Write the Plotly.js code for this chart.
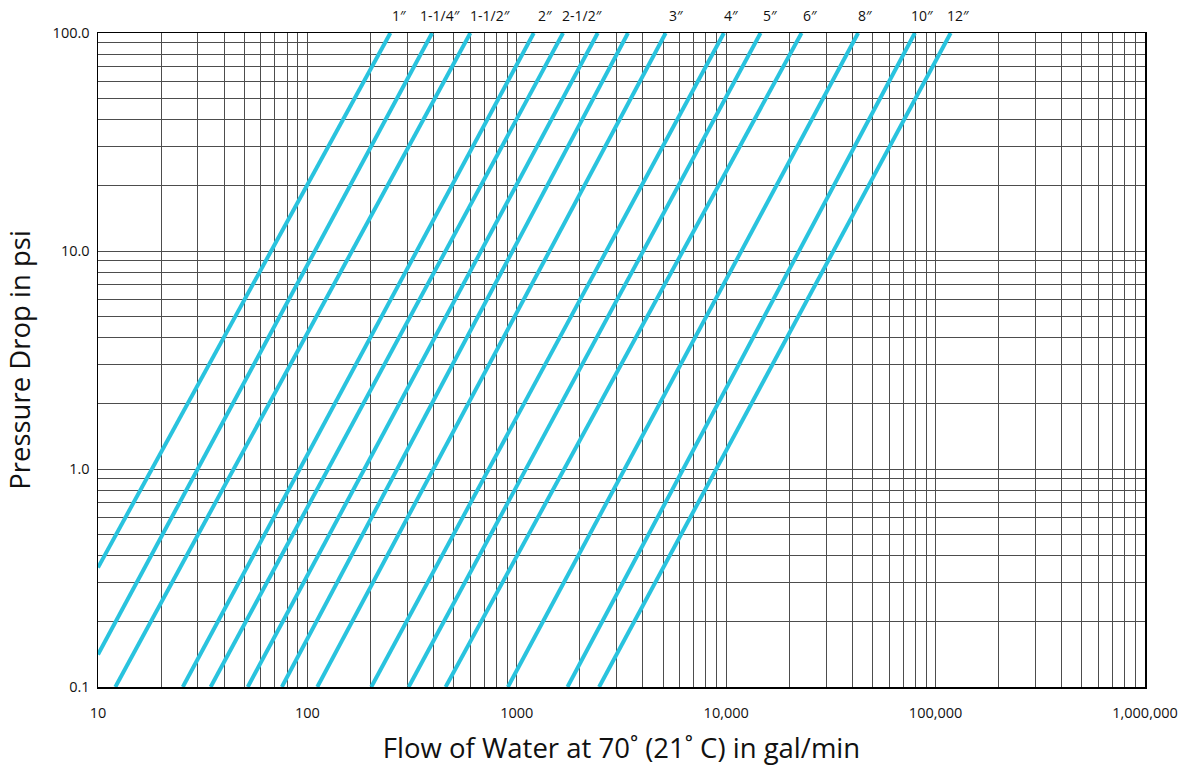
<!DOCTYPE html>
<html>
<head>
<meta charset="utf-8">
<script src="https://cdn.plot.ly/plotly-3.0.1.min.js"></script>
<style>html,body{margin:0;padding:0;background:#fff;}#chart{width:1191px;height:772px;}</style>
</head>
<body>
<div id="chart"></div>
<script>
// Line endpoints (flow gal/min, pressure drop psi)
const flowStart = [10, 10, 12.1, 25.4, 34.5, 51.9, 75.5, 111.5, 201.8, 304.5, 457, 907, 1746, 2472];
const dropStart = [0.353, 0.141, 0.1, 0.1, 0.1, 0.1, 0.1, 0.1, 0.1, 0.1, 0.1, 0.1, 0.1, 0.1];
const flowEnd   = [249, 394, 600, 1205, 1663, 2435, 3396, 5140, 9750, 14590, 22900, 42660, 79600, 118000];
const dropEnd   = [100, 100, 100, 100, 100, 100, 100, 100, 100, 100, 100, 100, 100, 100];

// Pipe size labels above the plot and the flow value they sit over
const pipeLabels = ['1″', '1-1/4″', '1-1/2″', '2″', '2-1/2″', '3″', '4″', '5″', '6″', '8″', '10″', '12″'];
const pipeLabelFlow = [272.8, 428, 742, 1359, 2042, 5740, 10520, 16140, 25050, 45900, 85900, 128000];

// Axis tick labels (decades)
const xDecades = [10, 100, 1000, 10000, 100000, 1000000];
const xDecadeText = ['10', '100', '1000', '10,000', '100,000', '1,000,000'];
const yDecades = [0.1, 1, 10, 100];
const yDecadeText = ['0.1', '1.0', '10.0', '100.0'];

function gridVals(decades, labels) {
  const vals = [], text = [];
  for (let i = 0; i < decades.length; i++) {
    vals.push(decades[i]); text.push(labels[i]);
    if (i < decades.length - 1) {
      for (let m = 2; m <= 9; m++) { vals.push(m * decades[i]); text.push(''); }
    }
  }
  return {vals, text};
}
const xg = gridVals(xDecades, xDecadeText);
const yg = gridVals(yDecades, yDecadeText);

const lineColor = '#29c3de';
const traces = flowStart.map((f, i) => ({
  x: [f, flowEnd[i]],
  y: [dropStart[i], dropEnd[i]],
  mode: 'lines',
  type: 'scatter',
  line: {color: lineColor, width: 4},
  hoverinfo: 'x+y',
  showlegend: false
}));

const fontFam = '"Open Sans", "Noto Sans", sans-serif';
const gridColor = '#4d4d4d';

const annotations = pipeLabels.map((t, i) => ({
  text: t,
  x: Math.log10(pipeLabelFlow[i]),
  xref: 'x',
  y: 1.0275,
  yref: 'paper',
  xanchor: 'center',
  yanchor: 'middle',
  showarrow: false,
  font: {family: fontFam, size: 14, color: '#111'}
}));

const layout = {
  width: 1191,
  height: 772,
  margin: {l: 98, r: 46, t: 33, b: 85, pad: 0},
  paper_bgcolor: '#ffffff',
  plot_bgcolor: '#ffffff',
  font: {family: fontFam, color: '#111'},
  xaxis: {
    type: 'log',
    range: [1, 6],
    tickmode: 'array',
    tickvals: xg.vals,
    ticktext: xg.text,
    ticks: 'outside',
    ticklen: 12,
    tickcolor: 'rgba(0,0,0,0)',
    tickfont: {size: 14.5, color: '#111', family: fontFam},
    showgrid: true,
    gridcolor: gridColor,
    gridwidth: 1,
    showline: true,
    linecolor: '#000',
    linewidth: 1.5,
    mirror: true,
    zeroline: false,
    title: {text: 'Flow of Water at 70˚ (21˚ C) in gal/min', font: {size: 27.5, color: '#111', family: fontFam}, standoff: 18}
  },
  yaxis: {
    type: 'log',
    range: [-1, 2],
    tickmode: 'array',
    tickvals: yg.vals,
    ticktext: yg.text,
    ticks: 'outside',
    ticklen: 4,
    tickcolor: 'rgba(0,0,0,0)',
    tickfont: {size: 14.5, color: '#111', family: fontFam},
    showgrid: true,
    gridcolor: gridColor,
    gridwidth: 1,
    showline: true,
    linecolor: '#000',
    linewidth: 1.5,
    mirror: true,
    zeroline: false,
    title: {text: 'Pressure Drop in psi', font: {size: 27.5, color: '#111', family: fontFam}, standoff: 14}
  },
  annotations: annotations,
  showlegend: false
};

Plotly.newPlot('chart', traces, layout, {displayModeBar: false, staticPlot: true});
</script>
</body>
</html>
